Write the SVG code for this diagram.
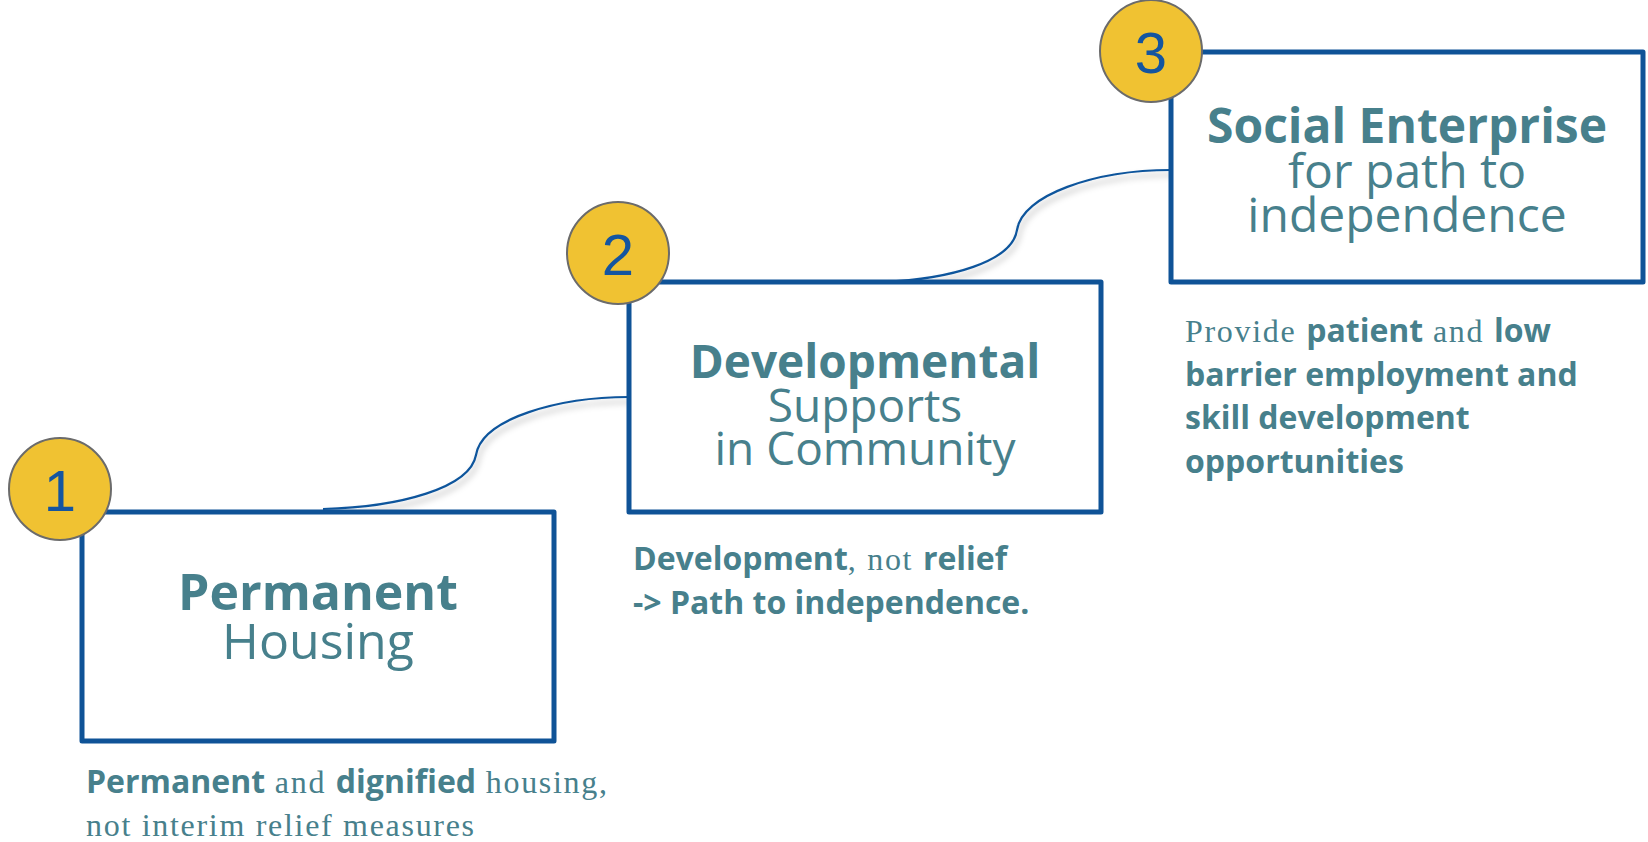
<svg xmlns="http://www.w3.org/2000/svg" width="1648" height="842" viewBox="0 0 1648 842">
<defs>
<style>
.box{fill:#ffffff;stroke:#0f5397;stroke-width:5;stroke-linejoin:round}
.badge{fill:#f0c232;stroke:#6b6b6b;stroke-width:2}
.num{font-family:"Liberation Sans",Arial,sans-serif;font-size:58px;fill:#1455a0;text-anchor:middle}
.t{font-family:"Open Sans",sans-serif;fill:#47808c;text-anchor:middle}
.tb{font-weight:700}
.tr{font-weight:400}
.cap{font-family:"Open Sans",sans-serif;font-size:32px;fill:#47808c;font-weight:700}
.sf{font-family:"Liberation Serif","Times New Roman",serif;font-weight:400;letter-spacing:1.7px}
.conn{fill:none;stroke:#11559c;stroke-width:2.2;filter:url(#sh)}
</style>
<filter id="sh" x="-20%" y="-40%" width="140%" height="180%">
<feDropShadow dx="2" dy="5" stdDeviation="3" flood-color="#000" flood-opacity="0.3"/>
</filter>
</defs>
<g id="connectors">
<path class="conn" d="M323,509 C400,507 470,488 476,455 C482,418 560,397 629,397"/>
<path class="conn" d="M883,282 C950,279 1012,262 1017,230 C1022,195 1095,170 1171,170"/>
</g>
<g id="node1">
<rect class="box" x="82" y="512" width="472" height="229"/>
<text class="t tb" x="318" y="610" font-size="50">Permanent</text>
<text class="t tr" x="318" y="659" font-size="50">Housing</text>
<circle class="badge" cx="60" cy="489" r="51"/>
<text class="num" x="60" y="511">1</text>
<text class="cap" x="86" y="793">Permanent<tspan class="sf"> and </tspan>dignified<tspan class="sf"> housing,</tspan></text>
<text class="cap sf" x="86" y="836">not interim relief measures</text>
</g>
<g id="node2">
<rect class="box" x="629" y="282" width="472" height="230"/>
<text class="t tb" x="865" y="378" font-size="46">Developmental</text>
<text class="t tr" x="865" y="422" font-size="46">Supports</text>
<text class="t tr" x="865" y="465" font-size="46">in Community</text>
<circle class="badge" cx="618" cy="253" r="51"/>
<text class="num" x="618" y="275">2</text>
<text class="cap" x="633" y="570">Development<tspan class="sf">, not </tspan>relief</text>
<text class="cap" x="633" y="614">-&gt; Path to independence.</text>
</g>
<g id="node3">
<rect class="box" x="1171" y="52" width="472" height="230"/>
<text class="t tb" x="1407" y="143" font-size="48">Social Enterprise</text>
<text class="t tr" x="1407" y="188" font-size="48">for path to</text>
<text class="t tr" x="1407" y="232" font-size="48">independence</text>
<circle class="badge" cx="1151" cy="51" r="51"/>
<text class="num" x="1151" y="73">3</text>
<text class="cap" x="1185" y="342"><tspan class="sf">Provide </tspan>patient<tspan class="sf"> and </tspan>low</text>
<text class="cap" x="1185" y="386">barrier employment and</text>
<text class="cap" x="1185" y="429">skill development</text>
<text class="cap" x="1185" y="473">opportunities</text>
</g>
</svg>
